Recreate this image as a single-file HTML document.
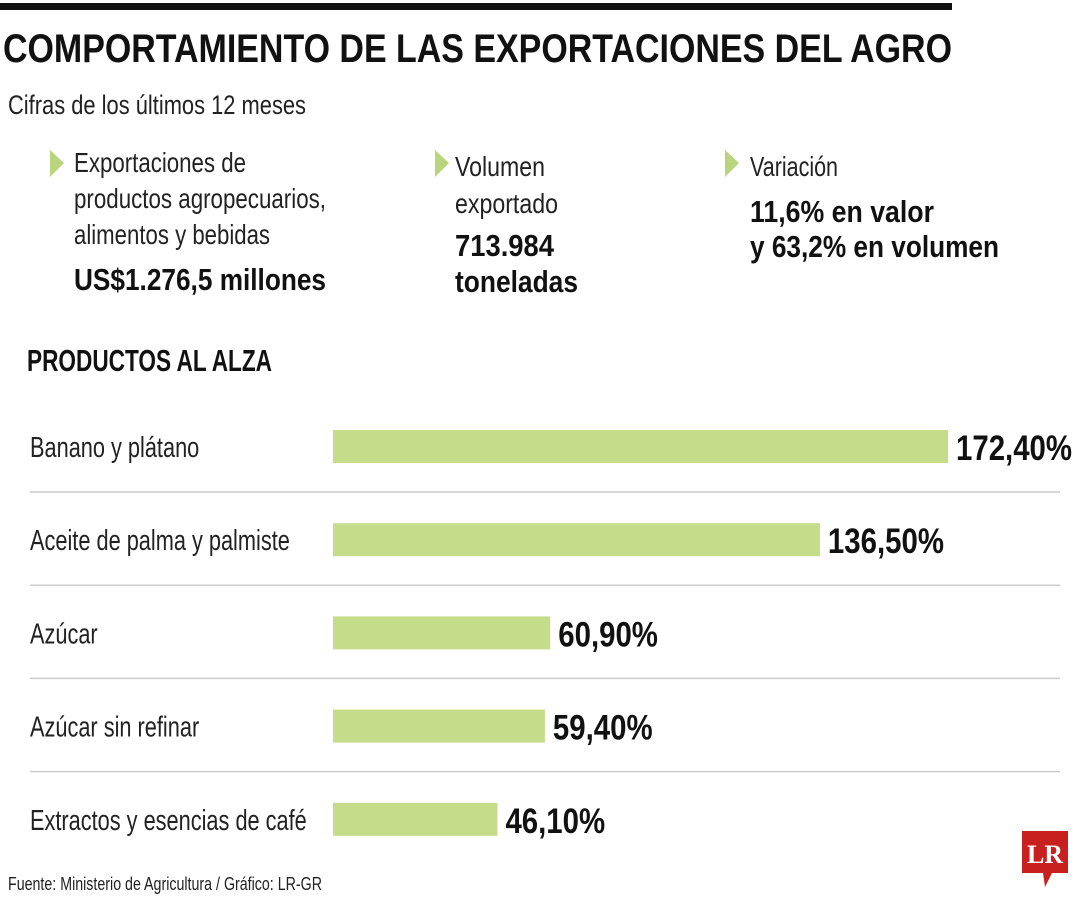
<!DOCTYPE html>
<html><head><meta charset="utf-8"><style>
html,body{margin:0;padding:0;background:#fff}
svg{display:block;font-family:"Liberation Sans Narrow","Liberation Sans",sans-serif}
</style></head><body>
<svg id="chart" width="1080" height="900" viewBox="0 0 1080 900">
<rect x="0" y="3" width="952" height="7" fill="#111"/>
<text x="3" y="62" font-size="40" font-weight="bold" fill="#111" textLength="949" lengthAdjust="spacingAndGlyphs">COMPORTAMIENTO DE LAS EXPORTACIONES DEL AGRO</text>
<text x="8" y="114" font-size="27" fill="#222" textLength="298" lengthAdjust="spacingAndGlyphs">Cifras de los últimos 12 meses</text>

<g fill="#222">
<polygon points="50,150 64,163 50,177" fill="#b8d47c"/>
<text x="74" y="172" font-size="28" textLength="172" lengthAdjust="spacingAndGlyphs">Exportaciones de</text>
<text x="74" y="208" font-size="28" textLength="252" lengthAdjust="spacingAndGlyphs">productos agropecuarios,</text>
<text x="74" y="244" font-size="28" textLength="196" lengthAdjust="spacingAndGlyphs">alimentos y bebidas</text>
<text x="74" y="290" font-size="31" font-weight="bold" fill="#111" textLength="252" lengthAdjust="spacingAndGlyphs">US$1.276,5 millones</text>
</g>
<g fill="#222">
<polygon points="435,150 449,163 435,177" fill="#b8d47c"/>
<text x="455" y="176" font-size="28" textLength="90" lengthAdjust="spacingAndGlyphs">Volumen</text>
<text x="455" y="213" font-size="28" textLength="103" lengthAdjust="spacingAndGlyphs">exportado</text>
<text x="455" y="256" font-size="31" font-weight="bold" fill="#111" textLength="99" lengthAdjust="spacingAndGlyphs">713.984</text>
<text x="455" y="292" font-size="31" font-weight="bold" fill="#111" textLength="123" lengthAdjust="spacingAndGlyphs">toneladas</text>
</g>
<g fill="#222">
<polygon points="725,150 739,163 725,177" fill="#b8d47c"/>
<text x="750" y="176" font-size="28" textLength="88" lengthAdjust="spacingAndGlyphs">Variación</text>
<text x="750" y="222" font-size="31" font-weight="bold" fill="#111" textLength="184" lengthAdjust="spacingAndGlyphs">11,6% en valor</text>
<text x="750" y="257" font-size="31" font-weight="bold" fill="#111" textLength="249" lengthAdjust="spacingAndGlyphs">y 63,2% en volumen</text>
</g>

<text x="27" y="371" font-size="31" font-weight="bold" fill="#111" textLength="245" lengthAdjust="spacingAndGlyphs">PRODUCTOS AL ALZA</text>
<g id="bars"></g>
<text x="8" y="890" font-size="18" fill="#222" textLength="314" lengthAdjust="spacingAndGlyphs">Fuente: Ministerio de Agricultura / Gráfico: LR-GR</text>
<g>
<path d="M1022,831 H1068 V873 H1052 L1045,887 L1043,873 H1022 Z" fill="#c8201e"/>
<text x="1045" y="863" font-family="Liberation Serif,serif" font-weight="bold" font-size="26" fill="#fff" text-anchor="middle">LR</text>
</g>
</svg>
<script>
const categories=["Banano y plátano","Aceite de palma y palmiste","Azúcar","Azúcar sin refinar","Extractos y esencias de café"];
const values=[172.4,136.5,60.9,59.4,46.1];
const valueLabels=["172,40%","136,50%","60,90%","59,40%","46,10%"];
const NS="http://www.w3.org/2000/svg";
const g=document.getElementById('bars');
const x0=333, xScale=v=>x0+v*(615/172.4);
const yBand=i=>430+i*93.2;
function mk(t,a){const e=document.createElementNS(NS,t);for(const k in a)e.setAttribute(k,a[k]);g.appendChild(e);return e;}
categories.forEach((c,i)=>{
  const y=yBand(i);
  const l=mk('text',{x:0,y:0,'font-size':29,fill:'#222',transform:`translate(30,${y+27}) scale(0.75,1)`});
  l.textContent=c;
  
  
  const b=mk('rect',{x:x0,y:y,width:xScale(values[i])-x0,height:33,fill:'#c5dc8b'});
  
  
  const v=mk('text',{x:0,y:0,'font-size':35,'font-weight':'bold',fill:'#111',transform:`translate(${xScale(values[i])+8},${y+30}) scale(0.84,1)`});
  v.textContent=valueLabels[i];
  
  
  if(i<categories.length-1){
    const s=mk('line',{x1:30,x2:1060,y1:y+62,y2:y+62,stroke:'#ccc','stroke-width':1.5});
    
    
  }
});
</script>
</body></html>
